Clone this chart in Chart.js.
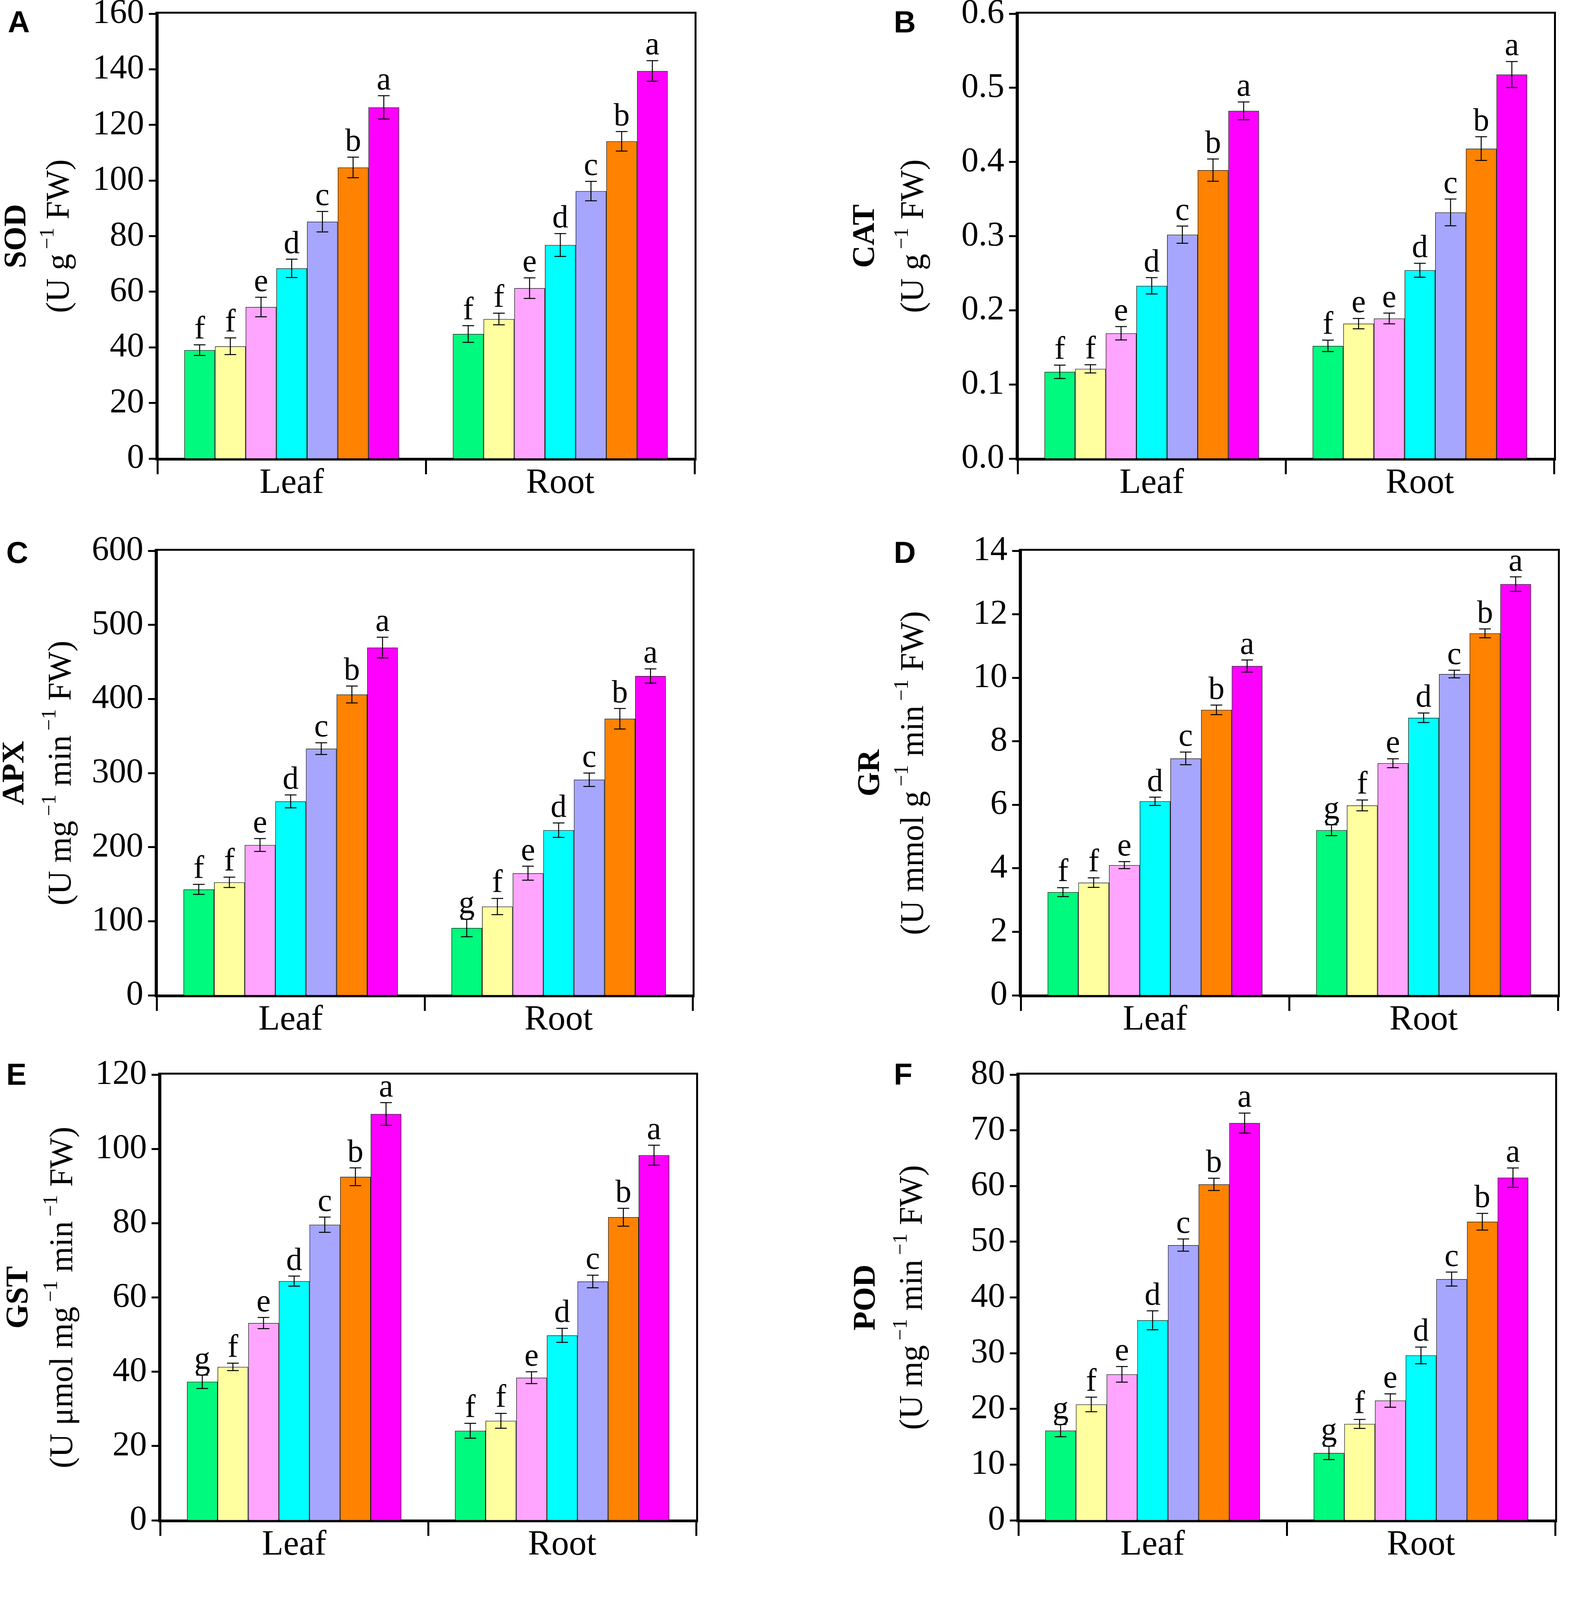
<!DOCTYPE html>
<html>
<head>
<meta charset="utf-8">
<script src="https://cdn.jsdelivr.net/npm/chart.js@4.4.1/dist/chart.umd.min.js"></script>
<style>
html, body { margin: 0; padding: 0; background: #fff; }
body { width: 4083px; height: 4636px; position: relative; overflow: hidden;
       font-family: 'Liberation Serif', 'Times New Roman', serif; color: #000; }
canvas { position: absolute; }
#legend { position: absolute; left: 1096px; top: 4202px; width: 1782px; height: 430px;
          border: 3px solid #222; box-sizing: border-box; }
.sw { position: absolute; height: 101px; width: 134px; box-sizing: border-box;
      border-top: 3px solid #111; border-bottom: 3px solid #111;
      border-left: 1px solid #555; border-right: 1px solid #555; }
.lab { position: absolute; width: 240px; text-align: center; font-size: 94px; line-height: 100px; }
.ttl { position: absolute; width: 2000px; text-align: center; font-size: 96px; line-height: 110px; }
.ttl sup { font-size: 62%; vertical-align: 0.7em; line-height: 0; margin-left: 0.12em; }
</style>
</head>
<body>
<div id="legend"></div>
<script>
const categories = ['Leaf', 'Root'];
const nickel = ['0', '10', '20', '30', '50', '75', '100'];
const colors = ['#00fa7d', '#ffffa0', '#ffa5ff', '#00ffff', '#a6a6ff', '#ff8200', '#ff00ff'];

// A - SOD
const sodLeaf = [39.0, 40.4, 54.5, 68.4, 85.2, 104.7, 126.3];
const sodRoot = [44.8, 50.2, 61.3, 76.8, 96.2, 114.1, 139.4];
const sodLeafErr = [1.9, 3.0, 3.5, 3.3, 3.7, 3.7, 4.2];
const sodRootErr = [3.0, 2.1, 3.7, 4.1, 3.5, 3.5, 3.7];
const sodLeafSig = ['f', 'f', 'e', 'd', 'c', 'b', 'a'];
const sodRootSig = ['f', 'f', 'e', 'd', 'c', 'b', 'a'];

// B - CAT
const catLeaf = [0.117, 0.121, 0.169, 0.233, 0.302, 0.389, 0.469];
const catRoot = [0.152, 0.182, 0.189, 0.254, 0.332, 0.418, 0.518];
const catLeafErr = [0.009, 0.0055, 0.009, 0.011, 0.0116, 0.015, 0.012];
const catRootErr = [0.0077, 0.007, 0.0072, 0.0094, 0.018, 0.016, 0.0175];
const catLeafSig = ['f', 'f', 'e', 'd', 'c', 'b', 'a'];
const catRootSig = ['f', 'e', 'e', 'd', 'c', 'b', 'a'];

// C - APX
const apxLeaf = [142.9, 152.5, 202.8, 261.8, 333.0, 406.0, 469.4];
const apxRoot = [90.9, 119.8, 164.8, 222.9, 291.0, 373.3, 431.0];
const apxLeafErr = [6.8, 7.0, 8.7, 8.7, 7.9, 11.4, 14.0];
const apxRootErr = [11.8, 10.9, 9.4, 9.8, 9.0, 13.8, 9.6];
const apxLeafSig = ['f', 'f', 'e', 'd', 'c', 'b', 'a'];
const apxRootSig = ['g', 'f', 'e', 'd', 'c', 'b', 'a'];

// D - GR
const grLeaf = [3.25, 3.55, 4.10, 6.11, 7.46, 8.99, 10.37];
const grRoot = [5.20, 5.98, 7.31, 8.74, 10.12, 11.40, 12.95];
const grLeafErr = [0.14, 0.15, 0.11, 0.13, 0.2, 0.15, 0.19];
const grRootErr = [0.17, 0.17, 0.14, 0.15, 0.12, 0.14, 0.23];
const grLeafSig = ['f', 'f', 'e', 'd', 'c', 'b', 'a'];
const grRootSig = ['g', 'f', 'e', 'd', 'c', 'b', 'a'];

// E - GST
const gstLeaf = [37.3, 41.3, 53.1, 64.4, 79.6, 92.5, 109.4];
const gstRoot = [24.1, 26.8, 38.4, 49.8, 64.3, 81.6, 98.3];
const gstLeafErr = [1.8, 1.0, 1.5, 1.35, 2.05, 2.4, 3.05];
const gstRootErr = [2.0, 2.0, 1.6, 1.9, 1.7, 2.4, 2.7];
const gstLeafSig = ['g', 'f', 'e', 'd', 'c', 'b', 'a'];
const gstRootSig = ['f', 'f', 'e', 'd', 'c', 'b', 'a'];

// F - POD
const podLeaf = [16.1, 20.8, 26.2, 35.9, 49.4, 60.3, 71.3];
const podRoot = [12.1, 17.3, 21.5, 29.6, 43.3, 53.6, 61.5];
const podLeafErr = [1.1, 1.3, 1.4, 1.7, 1.1, 1.1, 1.8];
const podRootErr = [1.2, 0.8, 1.2, 1.5, 1.25, 1.5, 1.75];
const podLeafSig = ['g', 'f', 'e', 'd', 'c', 'b', 'a'];
const podRootSig = ['g', 'f', 'e', 'd', 'c', 'b', 'a'];

// y axis ranges per panel
const yMax = [160, 0.6, 600, 14, 120, 80];
const yStep = [20, 0.1, 100, 2, 20, 10];

const panels = [
  { tag: 'A', name: 'SOD', unit: '(U g^{−1} FW)', leaf: sodLeaf, root: sodRoot, leafErr: sodLeafErr, rootErr: sodRootErr, leafSig: sodLeafSig, rootSig: sodRootSig, dec: 0,
    area: [403, 35, 1778, 1174], letter: [20, 83], titleX: [44, 154] },
  { tag: 'B', name: 'CAT', unit: '(U g^{−1} FW)', leaf: catLeaf, root: catRoot, leafErr: catLeafErr, rootErr: catRootErr, leafSig: catLeafSig, rootSig: catRootSig, dec: 1,
    area: [2605, 35, 3978, 1174], letter: [2288, 83], titleX: [2216, 2341] },
  { tag: 'C', name: 'APX', unit: '(U mg^{−1} min^{−1} FW)', leaf: apxLeaf, root: apxRoot, leafErr: apxLeafErr, rootErr: apxRootErr, leafSig: apxLeafSig, rootSig: apxRootSig, dec: 0,
    area: [401, 1410, 1773, 2548], letter: [16, 1441], titleX: [39, 159] },
  { tag: 'D', name: 'GR', unit: '(U mmol g^{−1} min^{−1} FW)', leaf: grLeaf, root: grRoot, leafErr: grLeafErr, rootErr: grRootErr, leafSig: grLeafSig, rootSig: grRootSig, dec: 0,
    area: [2613, 1410, 3988, 2548], letter: [2288, 1441], titleX: [2229, 2341] },
  { tag: 'E', name: 'GST', unit: '(U μmol mg^{−1} min^{−1} FW)', leaf: gstLeaf, root: gstRoot, leafErr: gstLeafErr, rootErr: gstRootErr, leafSig: gstLeafSig, rootSig: gstRootSig, dec: 0,
    area: [410, 2751, 1782, 3892], letter: [16, 2777], titleX: [49, 163] },
  { tag: 'F', name: 'POD', unit: '(U mg^{−1} min^{−1} FW)', leaf: podLeaf, root: podRoot, leafErr: podLeafErr, rootErr: podRootErr, leafSig: podLeafSig, rootSig: podRootSig, dec: 0,
    area: [2607, 2751, 3981, 3892], letter: [2288, 2777], titleX: [2218, 2338] }
];

const SERIF = "'Liberation Serif', 'Times New Roman', serif";
Chart.defaults.font.family = SERIF;
Chart.defaults.color = '#000';

// 'a^{b}c' -> text pieces, superscripts flagged
function richParts(s) {
  const out = [];
  const re = /\^\{([^}]*)\}/g;
  let last = 0, m;
  while ((m = re.exec(s))) {
    if (m.index > last) out.push({ t: s.slice(last, m.index) });
    out.push({ t: m[1], sup: true });
    last = re.lastIndex;
  }
  if (last < s.length) out.push({ t: s.slice(last) });
  return out;
}

function drawRich(ctx, s, cx, cy, size, weight) {
  const parts = richParts(s);
  const main = weight + ' ' + size + 'px ' + SERIF;
  const small = weight + ' ' + Math.round(size * 0.62) + 'px ' + SERIF;
  const gap = size * 0.14;
  let total = 0;
  parts.forEach(q => {
    ctx.font = q.sup ? small : main;
    q.w = ctx.measureText(q.t).width + (q.sup ? gap : 0);
    total += q.w;
  });
  let x = cx - total / 2;
  ctx.textAlign = 'left';
  ctx.textBaseline = 'middle';
  parts.forEach(q => {
    ctx.font = q.sup ? small : main;
    ctx.fillText(q.t, x + (q.sup ? gap : 0), cy - (q.sup ? size * 0.36 : 0));
    x += q.w;
  });
}

const panelDecor = {
  id: 'panelDecor',
  afterDatasetsDraw(chart, args, opts) {
    const p = opts.panel;
    const ctx = chart.ctx;
    const y = chart.scales.y;
    ctx.save();
    ctx.strokeStyle = '#000';
    ctx.fillStyle = '#000';
    ctx.lineWidth = 2.5;
    ctx.font = '82px ' + SERIF;
    ctx.textAlign = 'center';
    ctx.textBaseline = 'alphabetic';
    chart.data.datasets.forEach((ds, i) => {
      const meta = chart.getDatasetMeta(i);
      meta.data.forEach((bar, j) => {
        const v = ds.data[j];
        const e = j === 0 ? p.leafErr[i] : p.rootErr[i];
        const sig = j === 0 ? p.leafSig[i] : p.rootSig[i];
        const yt = y.getPixelForValue(v + e);
        const yb = y.getPixelForValue(v - e);
        const cap = 15;
        ctx.beginPath();
        ctx.moveTo(bar.x, yt); ctx.lineTo(bar.x, yb);
        ctx.moveTo(bar.x - cap, yt); ctx.lineTo(bar.x + cap, yt);
        ctx.moveTo(bar.x - cap, yb); ctx.lineTo(bar.x + cap, yb);
        ctx.stroke();
        ctx.fillText(sig, bar.x, yt - 16);
      });
    });
    ctx.restore();
  },
  afterDraw(chart, args, opts) {
    const p = opts.panel, ox = opts.ox, oy = opts.oy;
    const ctx = chart.ctx;
    const a = chart.chartArea;
    ctx.save();
    ctx.strokeStyle = '#000';
    ctx.lineWidth = 5;
    ctx.strokeRect(a.left - 2.5, a.top - 2.5, a.right - a.left + 5, a.bottom - a.top + 5);

    ctx.fillStyle = '#000';
    ctx.font = "bold 78px 'Liberation Sans', Arial, sans-serif";
    ctx.textAlign = 'left';
    ctx.textBaseline = 'alphabetic';
    ctx.fillText(p.tag, p.letter[0] - ox, p.letter[1] - oy);

    const cy = (a.top + a.bottom) / 2;
    [[p.name, p.titleX[0], 'bold', 80], [p.unit, p.titleX[1], 'normal', 84]].forEach(([txt, px, w, sz]) => {
      ctx.save();
      ctx.translate(px - ox, cy);
      ctx.rotate(-Math.PI / 2);
      drawRich(ctx, txt, 0, 0, sz, w);
      ctx.restore();
    });
    ctx.restore();
  }
};

const PAD_L = 430, PAD_T = 120, PAD_R = 40, PAD_B = 160;
const Y_W = 200, X_H = 150;

panels.forEach((p, k) => {
  const [l, t, r, b] = p.area;
  const ox = l - PAD_L, oy = t - PAD_T;
  const w = r - l + PAD_L + PAD_R, h = b - t + PAD_T + PAD_B;
  const cv = document.createElement('canvas');
  cv.width = w; cv.height = h;
  cv.style.left = ox + 'px'; cv.style.top = oy + 'px';
  cv.style.width = w + 'px'; cv.style.height = h + 'px';
  document.body.appendChild(cv);

  new Chart(cv, {
    type: 'bar',
    data: {
      labels: categories,
      datasets: nickel.map((n, i) => ({
        label: n,
        data: [p.leaf[i], p.root[i]],
        backgroundColor: colors[i],
        borderColor: '#000',
        borderWidth: 1.5,
        categoryPercentage: 0.8,
        barPercentage: 1.0
      }))
    },
    options: {
      responsive: false,
      animation: false,
      devicePixelRatio: 1,
      events: [],
      layout: { padding: { left: PAD_L - Y_W, top: PAD_T, right: PAD_R, bottom: PAD_B - X_H } },
      plugins: {
        legend: { display: false },
        tooltip: { enabled: false },
        panelDecor: { panel: p, ox: ox, oy: oy }
      },
      scales: {
        x: {
          offset: true,
          grid: { offset: true, drawOnChartArea: false, tickLength: 40, tickWidth: 5, tickColor: '#000' },
          border: { width: 5, color: '#000' },
          ticks: { color: '#000', font: { size: 90 }, padding: -30 },
          afterFit: s => { s.height = X_H; }
        },
        y: {
          min: 0,
          max: yMax[k],
          ticks: { stepSize: yStep[k], color: '#000', font: { size: 88 }, padding: 12,
                   callback: v => Number(v).toFixed(p.dec) },
          grid: { drawOnChartArea: false, tickLength: 22, tickWidth: 5, tickColor: '#000' },
          border: { width: 5, color: '#000' },
          afterFit: s => { s.width = Y_W; }
        }
      }
    },
    plugins: [panelDecor]
  });
});

// legend below the panels
const legend = document.getElementById('legend');
const LX = 1096, LY = 4202;
nickel.forEach((n, i) => {
  const cx = 1350 + i * 232.5;
  const sw = document.createElement('div');
  sw.className = 'sw';
  sw.style.background = colors[i];
  sw.style.left = (cx - 67 - LX) + 'px';
  sw.style.top = (4258 - LY) + 'px';
  legend.appendChild(sw);
  const lb = document.createElement('div');
  lb.className = 'lab';
  lb.textContent = n;
  lb.style.left = (cx - 120 - LX) + 'px';
  lb.style.top = (4363 - LY) + 'px';
  legend.appendChild(lb);
});
const ttl = document.createElement('div');
ttl.className = 'ttl';
ttl.innerHTML = 'Nickel concentration (mg L<sup>−1</sup>)';
ttl.style.left = (2080 - 1000 - LX) + 'px';
ttl.style.top = (4491 - LY) + 'px';
legend.appendChild(ttl);
</script>
</body>
</html>
